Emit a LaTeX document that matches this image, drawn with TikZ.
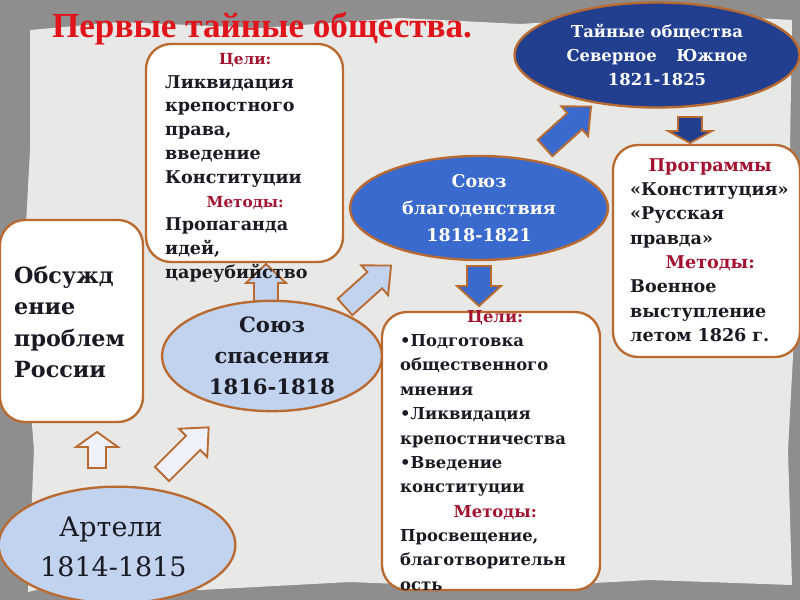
\documentclass[tikz,border=0pt]{standalone}
\usepackage{fontspec}
\setmainfont{DejaVu Serif}
\newfontfamily\titlefont{Liberation Serif}
\usetikzlibrary{shapes.geometric,fit}
\definecolor{brd}{HTML}{B86A30}
\definecolor{dblue}{HTML}{213F8E}
\definecolor{mblue}{HTML}{3A6ACD}
\definecolor{lblue}{HTML}{C2D3EF}
\definecolor{pale}{HTML}{EEF1FA}
\definecolor{goalred}{HTML}{A3122E}
\definecolor{titlered}{HTML}{E1141C}
\definecolor{paper}{HTML}{E8E8E6}
\definecolor{edgegray}{HTML}{8E8E8E}
\definecolor{inktext}{HTML}{1A1A22}
% x y angle length headlen headhalf shafthalf fill
\newcommand{\blockarrow}[8]{%
  \draw[barrow,fill=#8,shift={(#1,#2)},rotate=#3]
    (0,-#7) -- ({#4-#5},-#7) -- ({#4-#5},-#6) -- (#4,0) -- ({#4-#5},#6) -- ({#4-#5},#7) -- (0,#7) -- cycle;}
\begin{document}
\begin{tikzpicture}[x=0.3mm,y=-0.3mm,
  box/.style={draw=brd, line width=2pt, fill=white, rounded corners=7.5mm, inner sep=0},
  ell/.style={ellipse, draw=brd, line width=2pt, inner sep=0},
  txt/.style={font=\bfseries\fontsize{15}{20.8}\selectfont, align=left, inner sep=0, text=inktext},
  barrow/.style={draw=brd, line width=1.6pt, line join=miter}]
\useasboundingbox (0,0) rectangle (800,600);
% background
\fill[edgegray] (0,0) rectangle (800,600);
\fill[paper] (30,30) -- (120,22) -- (260,28) -- (400,18) -- (520,24) -- (680,14) -- (792,20)
  -- (790,150) -- (796,300) -- (788,450) -- (792,585) -- (650,580) -- (500,588) -- (350,582)
  -- (200,590) -- (60,584) -- (28,592) -- (34,450) -- (22,300) -- (30,150) -- cycle;
% title
\node[font=\titlefont\bfseries\fontsize{30}{31}\selectfont, text=titlered, inner sep=0] (title) at (262,29) {Первые тайные общества.};

% block arrows (drawn beneath boxes)
\blockarrow{97}{468}{90}{36}{15}{21}{9}{pale}
\blockarrow{162}{474}{45}{66}{22}{20}{10}{pale}
\blockarrow{266}{312}{90}{48}{19}{20}{12}{lblue}
\blockarrow{345}{307}{42}{62}{22}{20}{11}{lblue}
\blockarrow{479}{266}{-90}{40}{20}{22}{12}{mblue}
\blockarrow{545}{148}{42}{62}{22}{20}{11}{mblue}
\blockarrow{690}{117}{-90}{26}{12}{22}{12}{dblue}

% ellipses
\node[ell, fill=dblue, minimum width=85.5mm, minimum height=31.5mm,
  text=white, font=\bfseries\fontsize{14}{20.5}\selectfont, align=center] (secret) at (657,55)
  {Тайные общества\\Северное\hspace{1.2em}Южное\\1821-1825};
\node[ell, fill=mblue, minimum width=77.4mm, minimum height=31.2mm,
  text=white, font=\bfseries\fontsize{15}{23}\selectfont, align=center] (welfare) at (479,208)
  {Союз\\благоденствия\\1818-1821};
\node[ell, fill=lblue, minimum width=66mm, minimum height=29mm,
  text=inktext, font=\bfseries\fontsize{18}{26.5}\selectfont, align=center] (salvation) at (272,356)
  {Союз\\спасения\\1816-1818};
\node[ell, fill=lblue, minimum width=71mm, minimum height=35mm] (artel) at (117,545) {};
\node[font=\fontsize{23}{34}\selectfont, text=inktext, align=left, inner sep=0, anchor=west] (arteltext) at (40,547)
  {\hspace{0.7em}Артели\\1814-1815};

% boxes
\node[box, fit={(146,44) (343,262)}] (goals1) {};
\node[box, fit={(0,220) (143,422)}] (discuss) {};
\node[box, fit={(613,145) (800,357)}] (program) {};
\node[box, fit={(382,312) (600,590)}] (goals2) {};

% box texts
\node[txt, font=\bfseries\fontsize{15}{20.3}\selectfont, text width=48mm, anchor=north west] (goals1text) at (165,53)
  {\makebox[\linewidth][c]{\color{goalred}\fontsize{13}{14}\selectfont Цели:}\\
   Ликвидация\\крепостного\\права,\\введение\\Конституции\\
   \makebox[\linewidth][c]{\color{goalred}\fontsize{13}{14}\selectfont Методы:}\\
   Пропаганда\\идей,\\цареубийство};
\node[font=\bfseries\fontsize{19}{27}\selectfont, text=inktext, align=left, inner sep=0, anchor=west] (discusstext) at (14,322)
  {Обсужд\\ение\\проблем\\России};
\node[txt, text width=48mm, anchor=north west] (programtext) at (630,158)
  {\makebox[\linewidth][c]{\color{goalred}Программы}\\
   «Конституция»\\«Русская\\правда»\\
   \makebox[\linewidth][c]{\color{goalred}Методы:}\\
   Военное\\выступление\\летом 1826 г.};
\node[txt, font=\bfseries\fontsize{14}{20.8}\selectfont, text width=57mm, anchor=north west] (goals2text) at (400,310)
  {\makebox[\linewidth][c]{\color{goalred}Цели:}\\
   •Подготовка\\общественного\\мнения\\
   •Ликвидация\\крепостничества\\
   •Введение\\конституции\\
   \makebox[\linewidth][c]{\color{goalred}Методы:}\\
   Просвещение,\\благотворительн\\ость};
\end{tikzpicture}
\end{document}
